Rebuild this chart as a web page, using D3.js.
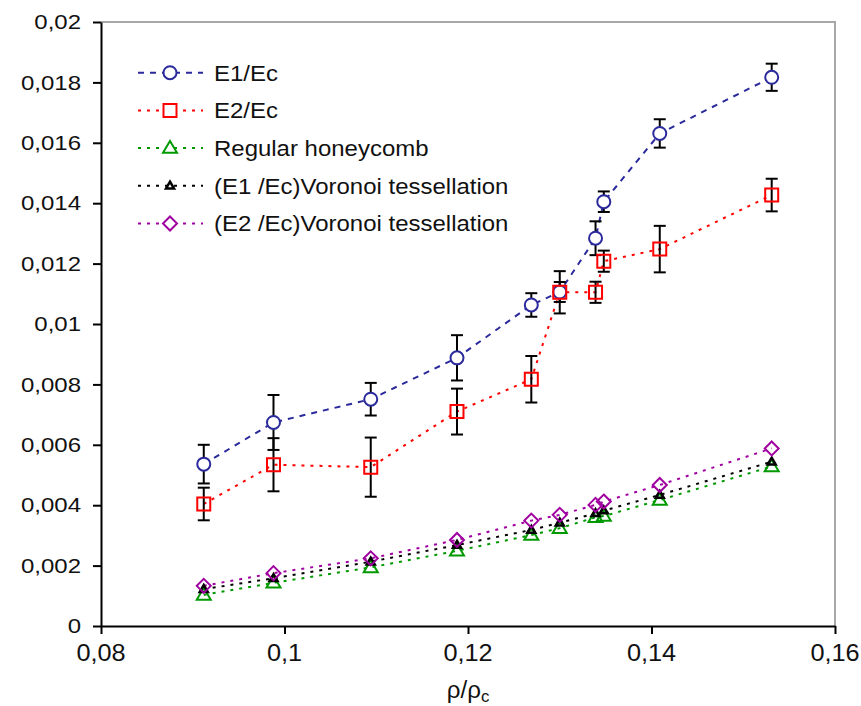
<!DOCTYPE html>
<html><head><meta charset="utf-8">
<script src="https://cdn.jsdelivr.net/npm/d3@7"></script>
<style>body{margin:0;background:#fff} svg{display:block}</style></head>
<body>
<svg id="c" width="861" height="706"></svg>
<script>
// ---- data ----
const rho = [0.0912, 0.0988, 0.1094, 0.1188, 0.1269, 0.1300, 0.1339, 0.1348, 0.1409, 0.1531];
const e1 = [0.00536, 0.00674, 0.00751, 0.00888, 0.01063, 0.01106, 0.01284, 0.01405, 0.01631, 0.01817];
const e1Err = [0.00064, 0.00091, 0.00054, 0.00075, 0.00039, 0.00033, 0.00056, 0.00034, 0.00047, 0.00045];
const e2 = [0.00404, 0.00534, 0.00526, 0.00710, 0.00817, 0.01105, 0.01105, 0.01208, 0.01248, 0.01427];
const e2Err = [0.00054, 0.00088, 0.00098, 0.00076, 0.00077, 0.00070, 0.00035, 0.00035, 0.00077, 0.00054];
const honeycomb = [0.00103, 0.00143, 0.00194, 0.00249, 0.00301, 0.00324, 0.00360, 0.00364, 0.00417, 0.00528];
const vorE1 = [0.00122, 0.00158, 0.00213, 0.00268, 0.00318, 0.00342, 0.00373, 0.00382, 0.00434, 0.00544];
const vorE2 = [0.00133, 0.00175, 0.00224, 0.00285, 0.00349, 0.00368, 0.00401, 0.00412, 0.00467, 0.00588];
const seriesNames = ["E1/Ec", "E2/Ec", "Regular honeycomb", "(E1 /Ec)Voronoi tessellation", "(E2 /Ec)Voronoi tessellation"];
const xTickValues = [0.08, 0.10, 0.12, 0.14, 0.16];
const xTickLabels = ["0,08", "0,1", "0,12", "0,14", "0,16"];
const yTickValues = [0, 0.002, 0.004, 0.006, 0.008, 0.010, 0.012, 0.014, 0.016, 0.018, 0.020];
const yTickLabels = ["0", "0,002", "0,004", "0,006", "0,008", "0,01", "0,012", "0,014", "0,016", "0,018", "0,02"];

// ---- styles ----
const FONT = "'Liberation Sans', Arial, sans-serif";
const styles = [
  {color: "#2a2a9c", dash: "6,6", sym: "circle", size: 6.5, fill: "#fff"},
  {color: "#ff0000", dash: "3,6", sym: "square", size: 6.5, fill: "none"},
  {color: "#009900", dash: "3,6", sym: "triangle", size: 7, fill: "none"},
  {color: "#000000", dash: "3,6", sym: "smalltri", size: 4, fill: "none"},
  {color: "#a000a0", dash: "3,6", sym: "diamond", size: 7, fill: "none"}
];
const seriesVals = [e1, e2, honeycomb, vorE1, vorE2];
const seriesErr = [e1Err, e2Err, null, null, null];

const svg = d3.select("#c");
const x = d3.scaleLinear().domain([0.08, 0.16]).range([101, 835]);
const y = d3.scaleLinear().domain([0, 0.02]).range([626, 22]);

function markerPath(sym, r) {
  if (sym === "circle") return d3.symbol(d3.symbolCircle, Math.PI * r * r)();
  if (sym === "square") return d3.symbol(d3.symbolSquare, (2 * r) * (2 * r))();
  if (sym === "triangle" || sym === "smalltri") {
    const h = r * 1.7;
    return `M0,${-h * 0.6}L${r},${h * 0.4}L${-r},${h * 0.4}Z`;
  }
  if (sym === "diamond") return `M0,${-r}L${r},0L0,${r}L${-r},0Z`;
}

// plot frame (grey top/right)
svg.append("path")
  .attr("d", `M${x(0.08)},${y(0.02)}H${x(0.16)}V${y(0)}`)
  .attr("fill", "none").attr("stroke", "#a8a8a8").attr("stroke-width", 2);

// axes
const yAxis = svg.append("g").attr("transform", `translate(${x(0.08)},0)`)
  .call(d3.axisLeft(y).tickValues(yTickValues).tickFormat("").tickSize(8).tickSizeOuter(0));
const xAxis = svg.append("g").attr("transform", `translate(0,${y(0)})`)
  .call(d3.axisBottom(x).tickValues(xTickValues).tickFormat("").tickSize(8).tickSizeOuter(0));
[yAxis, xAxis].forEach(g => {
  g.selectAll("path,line").attr("stroke", "#000").attr("stroke-width", 2);
});

// tick labels
svg.append("g").selectAll("text").data(yTickValues).join("text")
  .attr("transform", d => `translate(${x(0.08) - 20},${y(d)}) scale(1.2,1)`)
  .attr("text-anchor", "end").attr("dy", "0.36em")
  .attr("font-family", FONT).attr("font-size", 20).attr("fill", "#111")
  .text((d, i) => yTickLabels[i]);
svg.append("g").selectAll("text").data(xTickValues).join("text")
  .attr("transform", d => `translate(${x(d)},${y(0) + 35}) scale(1.1,1)`)
  .attr("text-anchor", "middle")
  .attr("font-family", FONT).attr("font-size", 23).attr("fill", "#111")
  .text((d, i) => xTickLabels[i]);

// axis title
const t = svg.append("text")
  .attr("transform", `translate(${(x(0.08) + x(0.16)) / 2},698) scale(1.05,1)`)
  .attr("text-anchor", "middle")
  .attr("font-family", FONT).attr("font-size", 23).attr("fill", "#111");
t.append("tspan").text("ρ/ρ");
t.append("tspan").attr("font-size", 16).attr("dy", 4).text("c");

// lines
const line = d3.line().x(d => x(d[0])).y(d => y(d[1]));
seriesVals.forEach((vals, s) => {
  svg.append("path")
    .attr("d", line(rho.map((r, i) => [r, vals[i]])))
    .attr("fill", "none").attr("stroke", styles[s].color)
    .attr("stroke-width", 2).attr("stroke-dasharray", styles[s].dash);
});

// error bars
seriesErr.forEach((errs, s) => {
  if (!errs) return;
  const g = svg.append("g").attr("stroke", "#000").attr("stroke-width", 2);
  rho.forEach((r, i) => {
    const v = seriesVals[s][i], e = errs[i];
    g.append("line").attr("x1", x(r)).attr("x2", x(r)).attr("y1", y(v - e)).attr("y2", y(v + e));
    [v - e, v + e].forEach(c => {
      g.append("line").attr("x1", x(r) - 6).attr("x2", x(r) + 6).attr("y1", y(c)).attr("y2", y(c));
    });
  });
});

// markers
seriesVals.forEach((vals, s) => {
  const st = styles[s];
  svg.append("g").selectAll("path").data(rho).join("path")
    .attr("transform", (r, i) => `translate(${x(r)},${y(vals[i])})`)
    .attr("d", markerPath(st.sym, st.size))
    .attr("fill", st.fill).attr("stroke", st.color)
    .attr("stroke-width", st.sym === "smalltri" ? 2.5 : 2);
});

// legend
const legend = svg.append("g");
seriesNames.forEach((name, s) => {
  const st = styles[s];
  const ly = 72.7 + s * 37.7;
  legend.append("line").attr("x1", 138).attr("x2", 203).attr("y1", ly).attr("y2", ly)
    .attr("stroke", st.color).attr("stroke-width", 2).attr("stroke-dasharray", st.dash);
  legend.append("path").attr("transform", `translate(170,${ly})`)
    .attr("d", markerPath(st.sym, st.size))
    .attr("fill", "#fff").attr("stroke", st.color)
    .attr("stroke-width", st.sym === "smalltri" ? 2.5 : 2);
  legend.append("text")
    .attr("transform", `translate(214,${ly}) scale(1.09,1)`)
    .attr("dy", "0.36em")
    .attr("font-family", FONT).attr("font-size", 22).attr("fill", "#111")
    .text(name);
});
</script>
</body></html>
